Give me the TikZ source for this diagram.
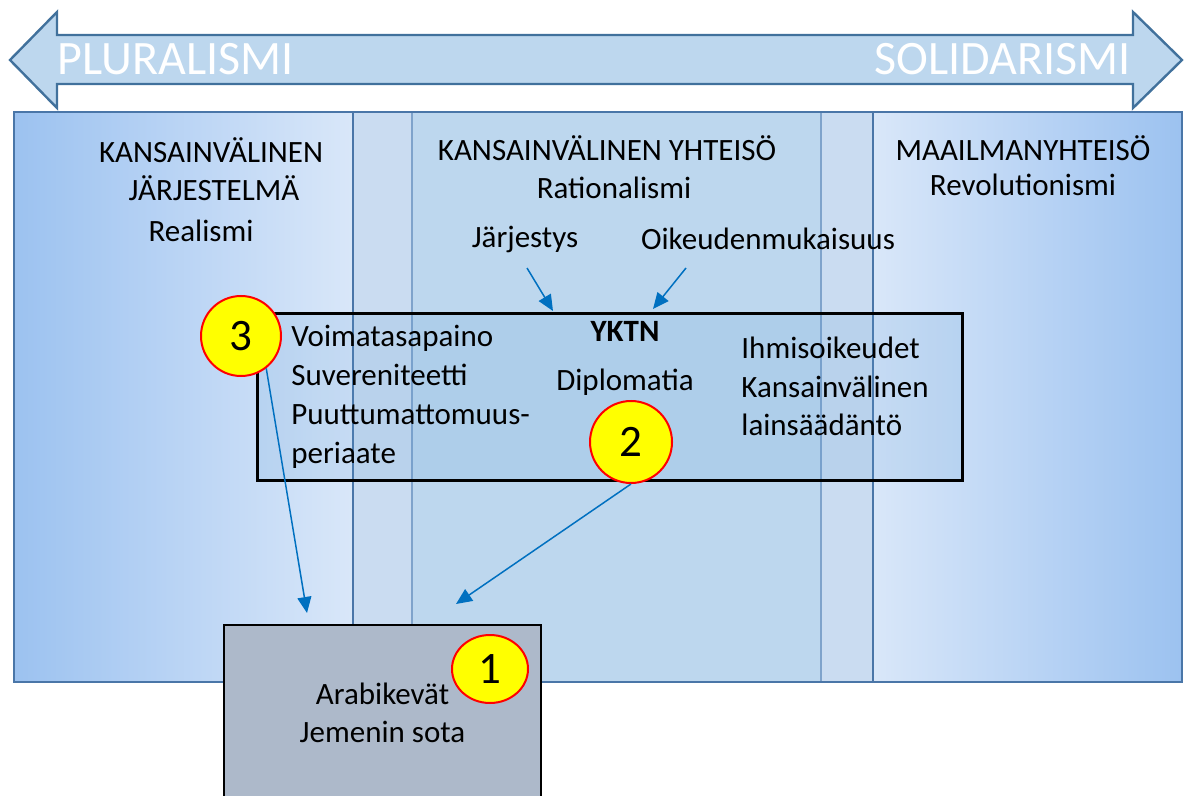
\documentclass[tikz,border=0pt]{standalone}
\usepackage{fontspec}
\setmainfont{Carlito}
\usetikzlibrary{shapes.geometric, arrows.meta, positioning, calc}

\definecolor{bandblue}{HTML}{BDD7EE}
\definecolor{bandedge}{HTML}{41719C}
\definecolor{zonedeep}{HTML}{9CC2F0}
\definecolor{zonepale}{HTML}{D9E7F9}
\definecolor{midblue}{HTML}{CADCF1}
\definecolor{coreblue}{HTML}{BDD7EE}
\definecolor{zoneedge}{HTML}{4A76A8}
\definecolor{coreedge}{HTML}{7FA3CB}
\definecolor{arrowblue}{HTML}{0070C0}
\definecolor{eventgrey}{HTML}{ADB9CA}
\definecolor{badgered}{HTML}{FF0000}
\definecolor{badgeyellow}{HTML}{FFFF00}
\definecolor{framefill}{HTML}{5B9BD5}

\begin{document}
\begin{tikzpicture}[
    x=0.5pt, y=-0.5pt,
    label/.style={font=\fontsize{15.5}{19}\selectfont, inner sep=0pt, anchor=base},
    leftline/.style={label, anchor=base west},
    slogan/.style={font=\fontsize{24}{28}\selectfont, text=white, inner sep=0pt},
    badge/.style={circle, draw=badgered, line width=1pt, fill=badgeyellow, font=\fontsize{22.5}{26}\selectfont, inner sep=0pt},
    framebox/.style={rectangle, draw=black, line width=1.5pt, fill=framefill, fill opacity=0.15, text opacity=1},
    eventbox/.style={rectangle, draw=black, line width=1pt, fill=eventgrey, align=center, font=\fontsize{15.5}{19}\selectfont},
    arrow/.style={-{Triangle[length=8pt, width=7pt]}, draw=arrowblue, line width=0.75pt}
]
    \useasboundingbox (0,0) rectangle (1187,796);

    % double arrow band
    \draw[fill=bandblue, draw=bandedge, line width=1.2pt]
        (10,60) -- (57,12) -- (57,35) -- (1133,35) -- (1133,12) -- (1182,60)
        -- (1133,108) -- (1133,84) -- (57,84) -- (57,108) -- cycle;
    \node[slogan, anchor=base west] (plural) at (57,75) {PLURALISMI};
    \node[slogan, anchor=base east] (solid) at (1131,75) {SOLIDARISMI};

    % zones
    \fill[left color=zonedeep, right color=zonepale] (14,112) rectangle (353,682);
    \fill[left color=zonepale, right color=zonedeep] (873,112) rectangle (1182,682);
    \fill[midblue] (353,112) rectangle (873,682);
    \fill[coreblue] (412,112) rectangle (821,682);
    \draw[coreedge, line width=1pt] (412,112) -- (412,682);
    \draw[coreedge, line width=1pt] (821,112) -- (821,682);
    \draw[zoneedge, line width=1pt] (353,112) -- (353,682);
    \draw[zoneedge, line width=1pt] (873,112) -- (873,682);
    \draw[zoneedge, line width=1pt] (14,112) rectangle (1182,682);

    % zone titles
    \node[label] (sys1) at (211,163) {KANSAINVÄLINEN};
    \node[label] (sys2) at (214,201) {JÄRJESTELMÄ};
    \node[label] (realism) at (201,242) {Realismi};
    \node[label] (soc) at (607,161) {KANSAINVÄLINEN YHTEISÖ};
    \node[label] (ratio) at (614,199) {Rationalismi};
    \node[label] (order) at (525,248) {Järjestys};
    \node[label] (justice) at (768,250) {Oikeudenmukaisuus};
    \node[label] (world) at (1023,161) {MAAILMANYHTEISÖ};
    \node[label] (revo) at (1023,196) {Revolutionismi};

    % frame with institutions
    \node[framebox, minimum width=352.5pt, minimum height=83pt] (frame) at (609.5,397) {};
    \node[leftline] (voima) at (291,347) {Voimatasapaino};
    \node[leftline] (suv) at ([yshift=-19.5pt]voima.base west) {Suvereniteetti};
    \node[leftline] (puut) at ([yshift=-19pt]suv.base west) {Puuttumattomuus-};
    \node[leftline] (peri) at ([yshift=-19.5pt]puut.base west) {periaate};
    \node[label, font=\fontsize{15.5}{19}\selectfont\bfseries] (yktn) at (625,342) {YKTN};
    \node[label] (diplo) at (625,390) {Diplomatia};
    \node[leftline] (ihmis) at (741,358) {Ihmisoikeudet};
    \node[leftline] (kans) at ([yshift=-19.5pt]ihmis.base west) {Kansainvälinen};
    \node[leftline] (laki) at ([yshift=-19pt]kans.base west) {lainsäädäntö};

    % events box
    \node[eventbox, minimum width=158.5pt, minimum height=88pt] (events) at (382.5,713)
        {Arabikevät\\Jemenin sota};

    % badges
    \node[badge, minimum size=40pt] (c3) at (241,336) {3};
    \node[badge, minimum size=41pt] (c2) at (631,442) {2};
    \node[badge, ellipse, minimum width=38pt, minimum height=34pt] (c1) at (490,669) {1};

    % arrow ends
    \coordinate (ordertail) at (527,268);
    \coordinate (orderhead) at (553,311);
    \coordinate (justtail) at (686,268);
    \coordinate (justhead) at (653,309);
    \coordinate (head3) at (307,613);
    \coordinate (head2) at (456,604);

    \draw[arrow] (ordertail) -- (orderhead);
    \draw[arrow] (justtail) -- (justhead);
    \draw[arrow] (c3.-52) -- (head3);
    \draw[arrow] (c2.south) -- (head2);
\end{tikzpicture}
\end{document}
